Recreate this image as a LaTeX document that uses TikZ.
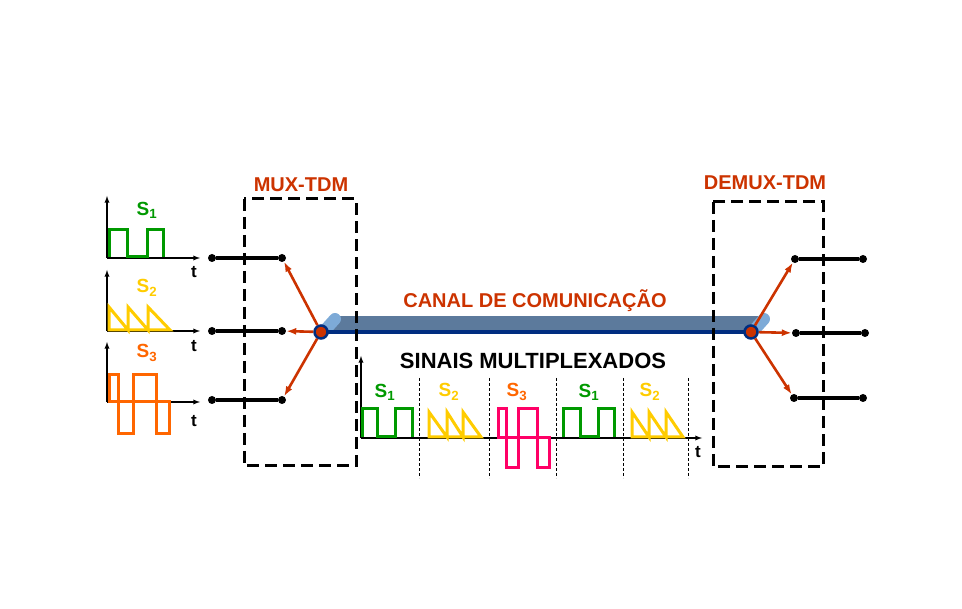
\documentclass[tikz,border=0pt]{standalone}
\usepackage{fontspec}
\setmainfont{Liberation Sans}
\usepackage{tikz}
\usetikzlibrary{arrows.meta}

\definecolor{muxred}{RGB}{204,51,0}
\definecolor{sgreen}{RGB}{0,153,0}
\definecolor{syellow}{RGB}{255,204,0}
\definecolor{sorange}{RGB}{255,102,0}
\definecolor{spink}{RGB}{255,0,102}
\definecolor{chanblue}{RGB}{92,122,156}
\definecolor{chandark}{RGB}{0,45,128}
\definecolor{chanlight}{RGB}{125,170,215}

\tikzset{
    dot/.style={circle,fill=black,inner sep=0pt,minimum size=8pt},
    swnode/.style={circle,fill=muxred,draw=chandark,line width=2.5pt,inner sep=0pt,minimum size=13pt},
    tlab/.style={font=\fontsize{17}{17}\selectfont\bfseries,inner sep=0pt},
    slab/.style={font=\fontsize{19}{19}\selectfont\bfseries,inner sep=0pt},
    boxlab/.style={font=\fontsize{20}{20}\selectfont\bfseries,text=muxred,inner sep=0pt},
    wave/.style={line width=3pt},
    axis/.style={->,line width=1.3pt},
    wire/.style={line width=3.2pt},
    boxline/.style={line width=3pt,dash pattern=on 12pt off 6pt},
    sepline/.style={line width=0.8pt,dash pattern=on 3pt off 2pt},
    redarrow/.style={-{Latex[length=10pt,width=7pt]},muxred,line width=2.6pt},
    chancap/.style={chanlight,line width=12pt,line cap=round}
}

\begin{document}
\begin{tikzpicture}[x=1pt,y=-1pt,>=latex]
    \useasboundingbox (0,0) rectangle (962,609);

    % Draw input signals
    \draw[axis] (107,258) -- (200,258);
    \draw[axis] (107,258) -- (107,196);
    \draw[wave,sgreen] (109,257) -- (109,230) -- (127,230) -- (127,257) -- (147,257) -- (147,230) -- (163,230) -- (163,257);
    \node[slab,sgreen] (s1in) at (147,210) {S\textsubscript{1}};
    \node[tlab] (t1) at (194,272) {t};

    \draw[axis] (107,331) -- (200,331);
    \draw[axis] (107,331) -- (107,270);
    \draw[wave,syellow] (109,330) -- (109,307) -- (128,330) -- (128,307) -- (148,330) -- (148,307) -- (170,330) -- cycle;
    \node[slab,syellow] (s2in) at (147,288) {S\textsubscript{2}};
    \node[tlab] (t2) at (194,346) {t};

    \draw[axis] (107,402) -- (200,402);
    \draw[axis] (107,402) -- (107,342);
    \draw[wave,sorange] (109,402) rectangle (118,375);
    \draw[wave,sorange] (118,402) rectangle (133,434);
    \draw[wave,sorange] (133,402) rectangle (156,375);
    \draw[wave,sorange] (156,402) rectangle (169,434);
    \node[slab,sorange] (s3in) at (147,353) {S\textsubscript{3}};
    \node[tlab] (t3) at (194,421) {t};

    % Draw input lines
    \node[dot] (in1) at (212,258) {};
    \node[dot] (ma1) at (282,258) {};
    \node[dot] (in2) at (212,331) {};
    \node[dot] (ma2) at (282,331) {};
    \node[dot] (in3) at (212,400) {};
    \node[dot] (ma3) at (282,400) {};
    \draw[wire] (in1) -- (ma1);
    \draw[wire] (in2) -- (ma2);
    \draw[wire] (in3) -- (ma3);

    % Draw channel
    \fill[chanblue] (332,316) rectangle (758,331);
    \draw[chancap] (326,329) -- (335,319);
    \draw[chancap] (755,329) -- (764,319);
    \draw[chandark,line width=4pt] (321,332) -- (751,332);
    \node[boxlab] (canal) at (535,301) {CANAL DE COMUNICAÇÃO};

    % Draw MUX and DEMUX boxes
    \draw[boxline] (244,199) rectangle (356,466);
    \node[boxlab] (muxlab) at (301,185) {MUX-TDM};
    \draw[boxline] (713,202) rectangle (823,467);
    \node[boxlab] (demuxlab) at (765,183) {DEMUX-TDM};

    % Draw switches
    \node[swnode] (muxsw) at (321,332) {};
    \draw[redarrow] (muxsw) -- (ma1);
    \draw[redarrow] (muxsw) -- (ma2);
    \draw[redarrow] (muxsw) -- (ma3);

    \node[swnode] (demuxsw) at (751,332) {};
    \node[dot] (dm1) at (795,259) {};
    \node[dot] (out1) at (863,259) {};
    \node[dot] (dm2) at (796,333) {};
    \node[dot] (out2) at (865,333) {};
    \node[dot] (dm3) at (794,398) {};
    \node[dot] (out3) at (863,398) {};
    \draw[wire] (dm1) -- (out1);
    \draw[wire] (dm2) -- (out2);
    \draw[wire] (dm3) -- (out3);
    \draw[redarrow] (demuxsw) -- (dm1);
    \draw[redarrow] (demuxsw) -- (dm2);
    \draw[redarrow] (demuxsw) -- (dm3);

    % Draw multiplexed signals
    \node[font=\fontsize{22}{22}\selectfont\bfseries,inner sep=0pt] (sinais) at (533,361) {SINAIS MULTIPLEXADOS};
    \draw[sepline] (419,378) -- (419,478);
    \draw[sepline] (489,378) -- (489,478);
    \draw[sepline] (556,378) -- (556,478);
    \draw[sepline] (623,378) -- (623,478);
    \draw[sepline] (688,378) -- (688,478);
    \draw[axis] (361,438) -- (702,438);
    \draw[axis] (361,438) -- (361,356);
    \node[tlab] (tm) at (698,452) {t};

    \draw[wave,sgreen] (362,437) -- (362,409) -- (377,409) -- (377,437) -- (395,437) -- (395,409) -- (412,409) -- (412,437);
    \draw[wave,syellow] (429,437) -- (429,412) -- (447,437) -- (447,412) -- (463,437) -- (463,412) -- (481,437) -- cycle;
    \draw[wave,spink] (498,438) rectangle (506,409);
    \draw[wave,spink] (506,438) rectangle (518,468);
    \draw[wave,spink] (518,438) rectangle (537,409);
    \draw[wave,spink] (537,438) rectangle (549,468);
    \draw[wave,sgreen] (563,437) -- (563,409) -- (580,409) -- (580,437) -- (598,437) -- (598,409) -- (614,409) -- (614,437);
    \draw[wave,syellow] (632,437) -- (632,412) -- (649,437) -- (649,412) -- (666,437) -- (666,412) -- (683,437) -- cycle;

    \node[slab,sgreen] (s1a) at (385,392) {S\textsubscript{1}};
    \node[slab,syellow] (s2a) at (449,392) {S\textsubscript{2}};
    \node[slab,sorange] (s3a) at (517,392) {S\textsubscript{3}};
    \node[slab,sgreen] (s1b) at (589,392) {S\textsubscript{1}};
    \node[slab,syellow] (s2b) at (650,392) {S\textsubscript{2}};
\end{tikzpicture}
\end{document}
